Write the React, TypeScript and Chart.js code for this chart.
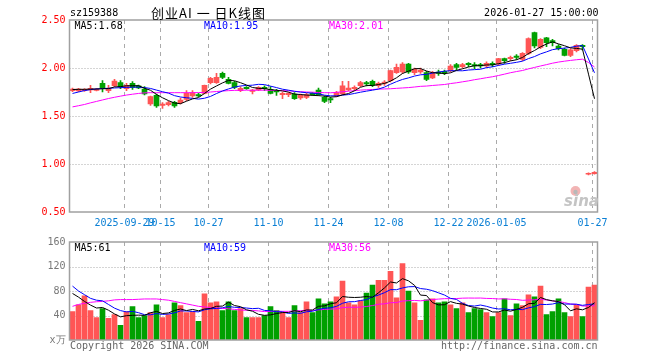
import React, { useEffect, useRef } from 'react';
import { Chart, registerables } from 'chart.js';
Chart.register(...registerables);

// ---------- data ----------
const dates = [
  '2025-09-16','2025-09-17','2025-09-18','2025-09-19','2025-09-22','2025-09-23','2025-09-24','2025-09-25','2025-09-26','2025-09-29','2025-09-30',
  '2025-10-09','2025-10-10','2025-10-13','2025-10-14','2025-10-15','2025-10-16','2025-10-17','2025-10-20','2025-10-21','2025-10-22','2025-10-23','2025-10-24','2025-10-27','2025-10-28','2025-10-29','2025-10-30','2025-10-31',
  '2025-11-03','2025-11-04','2025-11-05','2025-11-06','2025-11-07','2025-11-10','2025-11-11','2025-11-12','2025-11-13','2025-11-14','2025-11-17','2025-11-18','2025-11-19','2025-11-20','2025-11-21','2025-11-24','2025-11-25','2025-11-26','2025-11-27','2025-11-28',
  '2025-12-01','2025-12-02','2025-12-03','2025-12-04','2025-12-05','2025-12-08','2025-12-09','2025-12-10','2025-12-11','2025-12-12','2025-12-15','2025-12-16','2025-12-17','2025-12-18','2025-12-19','2025-12-22','2025-12-23','2025-12-24','2025-12-25','2025-12-26','2025-12-29','2025-12-30','2025-12-31',
  '2026-01-05','2026-01-06','2026-01-07','2026-01-08','2026-01-09','2026-01-12','2026-01-13','2026-01-14','2026-01-15','2026-01-16','2026-01-19','2026-01-20','2026-01-21','2026-01-22','2026-01-23','2026-01-26','2026-01-27'
];

const opens = [1.764,1.760,1.764,1.771,1.767,1.840,1.764,1.816,1.847,1.785,1.840,1.813,1.781,1.625,1.715,1.611,1.618,1.642,1.639,1.674,1.708,1.722,1.736,1.847,1.847,1.944,1.882,1.847,1.764,1.799,1.757,1.771,1.799,1.778,1.764,1.722,1.722,1.729,1.688,1.694,1.736,1.771,1.694,1.681,1.708,1.729,1.771,1.785,1.816,1.847,1.861,1.816,1.840,1.868,1.951,1.958,2.042,1.951,1.958,1.951,1.896,1.958,1.965,1.972,2.035,2.014,2.049,2.035,2.035,2.021,2.049,2.042,2.097,2.097,2.125,2.090,2.153,2.368,2.215,2.313,2.285,2.229,2.194,2.132,2.181,2.236,0.893,0.899];
const highs = [1.792,1.788,1.785,1.819,1.788,1.868,1.819,1.882,1.868,1.840,1.858,1.823,1.806,1.708,1.729,1.639,1.653,1.653,1.687,1.764,1.764,1.736,1.822,1.903,1.944,1.958,1.903,1.861,1.806,1.806,1.778,1.806,1.813,1.806,1.778,1.750,1.743,1.743,1.729,1.736,1.743,1.792,1.708,1.694,1.757,1.861,1.861,1.813,1.861,1.861,1.875,1.854,1.868,1.979,2.042,2.056,2.049,2.000,2.000,1.965,1.965,1.979,1.979,2.035,2.049,2.049,2.056,2.056,2.049,2.063,2.063,2.100,2.104,2.125,2.139,2.160,2.313,2.375,2.306,2.319,2.299,2.243,2.208,2.201,2.243,2.243,0.908,0.920];
const lows = [1.753,1.753,1.757,1.743,1.760,1.750,1.743,1.806,1.785,1.764,1.778,1.785,1.719,1.611,1.590,1.580,1.604,1.590,1.625,1.660,1.694,1.701,1.729,1.833,1.840,1.889,1.833,1.785,1.753,1.778,1.729,1.764,1.764,1.729,1.715,1.681,1.701,1.674,1.674,1.681,1.715,1.715,1.639,1.639,1.701,1.722,1.764,1.764,1.806,1.813,1.806,1.799,1.819,1.854,1.944,1.944,1.944,1.931,1.944,1.868,1.889,1.924,1.931,1.958,1.979,2.000,2.014,1.993,2.000,2.007,2.014,2.028,2.049,2.076,2.090,2.076,2.139,2.208,2.201,2.222,2.229,2.188,2.125,2.118,2.167,2.188,0.885,0.893];
const closes = [1.781,1.781,1.778,1.788,1.778,1.795,1.788,1.865,1.806,1.819,1.799,1.792,1.729,1.701,1.604,1.625,1.639,1.604,1.667,1.736,1.743,1.708,1.819,1.892,1.903,1.903,1.840,1.799,1.788,1.785,1.771,1.799,1.785,1.736,1.750,1.736,1.736,1.681,1.715,1.722,1.722,1.722,1.653,1.667,1.743,1.813,1.792,1.799,1.847,1.833,1.819,1.840,1.854,1.972,2.007,2.042,1.958,1.986,1.979,1.882,1.951,1.944,1.951,2.021,2.007,2.035,2.035,2.021,2.021,2.049,2.035,2.097,2.076,2.111,2.111,2.153,2.306,2.229,2.299,2.264,2.264,2.201,2.132,2.188,2.236,2.222,0.900,0.912];

const ma5 = [1.775,1.778,1.778,1.780,1.781,1.784,1.785,1.803,1.806,1.815,1.815,1.816,1.789,1.768,1.725,1.690,1.660,1.635,1.628,1.654,1.678,1.692,1.735,1.780,1.813,1.845,1.871,1.867,1.847,1.823,1.797,1.788,1.786,1.775,1.768,1.761,1.749,1.728,1.724,1.718,1.715,1.712,1.707,1.697,1.701,1.720,1.734,1.763,1.799,1.817,1.818,1.828,1.839,1.864,1.898,1.943,1.967,1.993,1.994,1.969,1.951,1.948,1.941,1.950,1.975,1.992,2.010,2.024,2.024,2.032,2.032,2.045,2.056,2.074,2.086,2.110,2.151,2.182,2.220,2.250,2.272,2.251,2.232,2.210,2.204,2.196,1.936,1.680];
const ma10 = [1.735,1.750,1.765,1.775,1.782,1.786,1.789,1.792,1.795,1.798,1.800,1.801,1.796,1.787,1.770,1.753,1.738,1.712,1.698,1.690,1.684,1.676,1.685,1.704,1.734,1.761,1.782,1.801,1.813,1.818,1.821,1.830,1.827,1.811,1.796,1.779,1.769,1.757,1.749,1.743,1.738,1.731,1.717,1.710,1.710,1.717,1.723,1.735,1.748,1.759,1.769,1.781,1.801,1.831,1.858,1.881,1.897,1.916,1.929,1.934,1.947,1.958,1.967,1.972,1.972,1.971,1.979,1.983,1.987,2.004,2.012,2.027,2.040,2.049,2.059,2.071,2.098,2.119,2.147,2.168,2.191,2.201,2.207,2.215,2.227,2.234,2.094,1.950];
const ma30 = [1.595,1.607,1.620,1.637,1.652,1.667,1.682,1.695,1.707,1.718,1.727,1.735,1.741,1.743,1.743,1.743,1.743,1.743,1.743,1.743,1.743,1.744,1.746,1.750,1.755,1.760,1.764,1.767,1.768,1.769,1.768,1.769,1.769,1.767,1.766,1.764,1.763,1.757,1.753,1.750,1.748,1.745,1.743,1.742,1.746,1.753,1.758,1.764,1.770,1.773,1.776,1.780,1.782,1.784,1.788,1.792,1.796,1.802,1.809,1.812,1.818,1.823,1.828,1.838,1.846,1.856,1.866,1.878,1.888,1.899,1.909,1.922,1.936,1.951,1.963,1.974,1.991,2.006,2.021,2.035,2.050,2.062,2.071,2.079,2.086,2.092,2.057,2.010];

const volumes = [46.4,57.6,72,48,36.8,51.2,35.2,41.6,24,46.4,54.4,36.8,40,44.8,57.6,36.8,41.6,60.8,56,44.8,46.4,30.4,75.2,60.8,62.4,48,62.4,48,51.2,36.8,36.8,36.8,40,54.4,48,44.8,36.8,56,44.8,62.4,44.8,67.2,59.2,62.4,70.4,96,60.8,57.6,64,76.8,89.6,97.6,97.6,112,68.8,124.8,80,60.8,32,65.6,67.2,60.8,62.4,57.6,51.2,60.8,44.8,51.2,49.6,44.8,38.4,44.8,67.2,40,59.2,56,73.6,70.4,88,41.6,46.4,67.2,44.8,38.4,57.6,38.4,86.4,89.6];
const vma5 = [76,70,63,57,52.2,53.1,48.6,42.6,37.8,39.7,40.3,40.6,40.3,44.5,46.7,43.2,44.2,48.3,50.6,48.0,49.9,47.7,50.6,51.5,55.0,55.4,61.8,56.3,54.4,49.3,47.0,41.9,40.3,41.0,43.2,44.8,44.8,48.0,46.1,49.0,49.0,55.0,55.7,59.2,60.8,71.0,69.8,69.4,69.8,71.0,69.8,77.1,85.1,94.7,93.1,100.2,96.6,89.3,73.3,72.6,61.1,57.3,57.6,62.7,59.8,58.6,55.4,53.1,51.5,50.2,45.8,45.8,49.0,47.0,49.9,53.4,59.2,59.8,69.4,65.9,64.0,62.7,57.6,47.7,50.9,49.3,53.1,61];
const vma10 = [88,80,74,68,65,64,58,52,48,45.9,46.7,44.6,41.4,41.1,43.2,41.8,42.4,44.3,47.5,47.4,46.6,45.9,49.4,51.0,51.5,52.6,54.7,53.4,53.0,52.2,51.2,51.8,48.3,47.7,46.2,45.9,43.4,44.2,43.5,46.1,46.9,49.9,51.8,52.6,54.9,60.0,62.4,62.6,64.5,65.9,70.4,73.4,77.3,82.2,82.1,85.0,86.9,87.2,84.0,82.9,80.6,77.0,73.4,68.0,66.2,59.8,56.3,55.4,57.1,55.0,52.2,50.6,51.0,49.3,50.1,49.6,52.5,54.4,58.2,57.9,58.7,61.0,58.7,58.6,58.4,56.6,57.9,59];
const vma30 = [55,58,60,61.5,62.5,63,64,65.5,66,66,66,66.5,67,67,67,66,65,63,61,59,57,55,54,53,52,51.5,51,50,49,48.5,48.2,47.5,46.4,46.6,47.0,46.8,46.8,47.3,48.0,48.5,48.2,49.2,49.9,50.5,50.9,52.9,53.5,53.4,53.7,54.7,56.2,58.4,59.1,60.9,61.1,63.6,64.2,64.6,64.0,65.0,66.0,66.8,67.5,67.6,67.7,68.3,68.5,68.4,68.5,67.9,67.7,67.0,67.3,66.5,66.1,64.8,65.2,65.7,66.5,65.3,63.8,62.8,61.1,58.6,58.2,55.4,55.6,56];

const tickIndex = [9, 15, 23, 33, 43, 53, 63, 71, 87];
const tickText = ['2025-09-29', '10-15', '10-27', '11-10', '11-24', '12-08', '12-22', '2026-01-05', '01-27'];
const priceGrid = [1.0, 1.5, 2.0];
const volumeGrid = [40, 80, 120];

const code = 'sz159388';
const title = '创业AI 一 日K线图';
const stamp = '2026-01-27 15:00:00';
const priceLegend = ['MA5:1.68', 'MA10:1.95', 'MA30:2.01'];
const volumeLegend = ['MA5:61', 'MA10:59', 'MA30:56'];

// ---------- style ----------
const MONO = '"DejaVu Sans Mono", "Liberation Mono", monospace';
const RED = '#ff5555';
const GREEN = '#00a000';
const LINE_COLORS = ['#000000', '#0000ff', '#ff00ff'];
const GRID = '#aaaaaa';
const FRAME = '#a0a0a0';

function drawGrid(chart: any, values: number[]) {
  const { ctx, chartArea: a, scales } = chart;
  ctx.save();
  ctx.strokeStyle = GRID;
  ctx.lineWidth = 1;
  ctx.setLineDash([1, 2]);
  values.forEach((v) => {
    const y = Math.round(scales.y.getPixelForValue(v)) + 0.5;
    ctx.beginPath();
    ctx.moveTo(a.left, y);
    ctx.lineTo(a.right, y);
    ctx.stroke();
  });
  ctx.setLineDash([4, 4]);
  tickIndex.forEach((i) => {
    const x = scales.x.getPixelForValue(i) - 2;
    ctx.beginPath();
    ctx.moveTo(x, a.top);
    ctx.lineTo(x, a.bottom);
    ctx.stroke();
  });
  ctx.restore();
}

function drawFrame(chart: any) {
  const { ctx, chartArea: a } = chart;
  ctx.save();
  ctx.strokeStyle = FRAME;
  ctx.lineWidth = 1.5;
  ctx.strokeRect(a.left, a.top, a.right - a.left, a.bottom - a.top);
  ctx.restore();
}

function drawLegend(chart: any, texts: string[]) {
  const { ctx, chartArea: a } = chart;
  ctx.save();
  ctx.font = `10px ${MONO}`;
  ctx.textBaseline = 'middle';
  ctx.textAlign = 'left';
  const offs = [5, 134.5, 259.5];
  texts.forEach((t, k) => {
    ctx.fillStyle = LINE_COLORS[k];
    ctx.fillText(t, a.left + offs[k], a.top + 6.5);
  });
  ctx.restore();
}

const pricePlugin = {
  id: 'pricePlugin',
  beforeDatasetsDraw(chart: any) {
    drawGrid(chart, priceGrid);
  },
  afterDatasetsDraw(chart: any) {
    drawFrame(chart);
  },
  afterDraw(chart: any) {
    const { ctx, chartArea: a, scales } = chart;
    drawLegend(chart, priceLegend);
    ctx.save();
    // header
    ctx.textBaseline = 'middle';
    ctx.fillStyle = '#000';
    ctx.font = `10px ${MONO}`;
    ctx.textAlign = 'left';
    ctx.fillText(code, a.left + 0.5, 13);
    ctx.textAlign = 'right';
    ctx.fillText(stamp, a.right + 1, 13);
    ctx.textAlign = 'left';
    ctx.font = '13px "Noto Sans CJK SC", sans-serif';
    (ctx as any).letterSpacing = '1px';
    ctx.fillText(title, 151, 13);
    (ctx as any).letterSpacing = '0px';
    // x labels
    ctx.font = `10px ${MONO}`;
    ctx.fillStyle = '#0a7fd4';
    ctx.textAlign = 'center';
    tickIndex.forEach((i, k) => {
      ctx.fillText(tickText[k], scales.x.getPixelForValue(i) - 2, a.bottom + 11);
    });
    // watermark
    const wx = a.right - 16;
    const wy = a.bottom - 6;
    ctx.fillStyle = '#f2b4b4';
    ctx.beginPath();
    ctx.arc(wx - 6, wy - 15, 5, 0, Math.PI * 2);
    ctx.fill();
    ctx.fillStyle = '#b8b8b8';
    ctx.beginPath();
    ctx.arc(wx - 6, wy - 14, 2.2, 0, Math.PI * 2);
    ctx.fill();
    ctx.fillStyle = '#c4c4c4';
    ctx.font = 'italic bold 15px "DejaVu Sans", sans-serif';
    ctx.textAlign = 'center';
    ctx.textBaseline = 'alphabetic';
    ctx.fillText('sina', wx, wy);
    ctx.restore();
  },
};

const volumePlugin = {
  id: 'volumePlugin',
  beforeDatasetsDraw(chart: any) {
    drawGrid(chart, volumeGrid);
  },
  afterDatasetsDraw(chart: any) {
    drawFrame(chart);
  },
  afterDraw(chart: any) {
    const { ctx, chartArea: a } = chart;
    drawLegend(chart, volumeLegend);
    ctx.save();
    ctx.font = `10px ${MONO}`;
    ctx.fillStyle = '#666';
    ctx.textBaseline = 'middle';
    ctx.textAlign = 'left';
    ctx.fillText('Copyright 2026 SINA.COM', a.left + 0.5, a.bottom + 6.5);
    ctx.textAlign = 'right';
    ctx.fillText('http://finance.sina.com.cn', a.right, a.bottom + 6.5);
    ctx.restore();
  },
};

function lineDs(data: number[], color: string) {
  return {
    type: 'line' as const,
    data,
    borderColor: color,
    borderWidth: 1,
    pointRadius: 0,
    tension: 0,
    order: 0,
  };
}

export default function App() {
  const priceRef = useRef<HTMLCanvasElement>(null);
  const volRef = useRef<HTMLCanvasElement>(null);

  useEffect(() => {
    const colors = closes.map((c, i) => (c >= opens[i] ? RED : GREEN));
    const yAxisFit = (s: any) => {
      s.width = 69.5;
    };
    const common: any = {
      responsive: false,
      animation: false,
      devicePixelRatio: 1,
      events: [],
      plugins: { legend: { display: false }, tooltip: { enabled: false } },
    };

    const price = new Chart(priceRef.current as HTMLCanvasElement, {
      type: 'bar',
      data: {
        labels: dates,
        datasets: [
          lineDs(ma5, LINE_COLORS[0]),
          lineDs(ma10, LINE_COLORS[1]),
          lineDs(ma30, LINE_COLORS[2]),
          {
            type: 'bar',
            data: opens.map((o, i) => [o, closes[i]]),
            backgroundColor: colors,
            barThickness: 5,
            minBarLength: 1,
            grouped: false,
            order: 2,
          } as any,
          {
            type: 'bar',
            data: lows.map((l, i) => [l, highs[i]]),
            backgroundColor: colors,
            barThickness: 1,
            grouped: false,
            order: 3,
          } as any,
        ],
      },
      options: {
        ...common,
        layout: { padding: { left: 0, right: 62.5, top: 20, bottom: 20 } },
        scales: {
          x: { display: false, offset: true },
          y: {
            min: 0.5,
            max: 2.5,
            position: 'left',
            grid: { display: false, drawTicks: false },
            border: { display: false },
            ticks: {
              stepSize: 0.5,
              color: '#ff0000',
              padding: 4,
              font: { family: MONO, size: 10 },
              callback: (v: any) => Number(v).toFixed(2),
            },
            afterFit: yAxisFit,
          },
        },
      },
      plugins: [pricePlugin],
    } as any);

    const volume = new Chart(volRef.current as HTMLCanvasElement, {
      type: 'bar',
      data: {
        labels: dates,
        datasets: [
          lineDs(vma5, LINE_COLORS[0]),
          lineDs(vma10, LINE_COLORS[1]),
          lineDs(vma30, LINE_COLORS[2]),
          {
            type: 'bar',
            data: volumes,
            backgroundColor: colors,
            barThickness: 5,
            grouped: false,
            order: 2,
          } as any,
        ],
      },
      options: {
        ...common,
        layout: { padding: { left: 0, right: 62.5, top: 8, bottom: 20 } },
        scales: {
          x: { display: false, offset: true },
          y: {
            min: 0,
            max: 160,
            position: 'left',
            grid: { display: false, drawTicks: false },
            border: { display: false },
            ticks: {
              stepSize: 40,
              color: '#777',
              padding: 4,
              font: { family: MONO, size: 10 },
              callback: (v: any) => (Number(v) === 0 ? 'x万' : String(v)),
            },
            afterFit: yAxisFit,
          },
        },
      },
      plugins: [volumePlugin],
    } as any);

    return () => {
      price.destroy();
      volume.destroy();
    };
  }, []);

  return (
    <div style={{ position: 'fixed', left: 0, top: 0, width: 660, height: 360, background: '#fff' }}>
      <canvas ref={priceRef} width={660} height={232} style={{ position: 'absolute', left: 0, top: 0, width: 660, height: 232 }} />
      <canvas ref={volRef} width={660} height={128} style={{ position: 'absolute', left: 0, top: 232, width: 660, height: 128 }} />
    </div>
  );
}
